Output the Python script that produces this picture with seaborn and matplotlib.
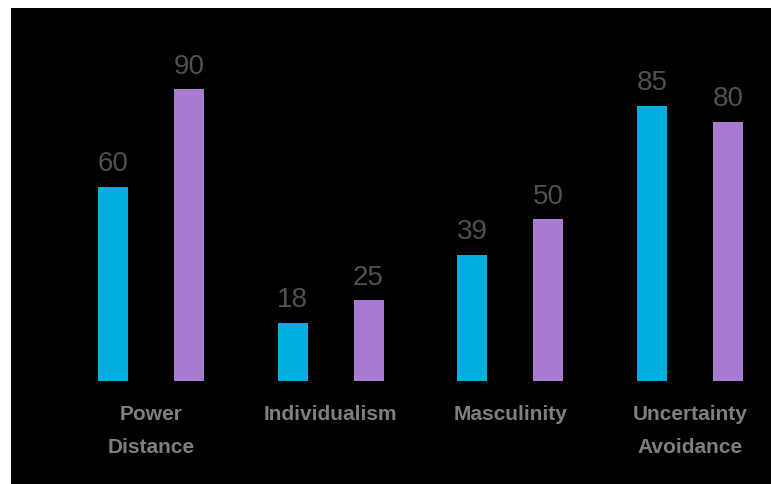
import pandas as pd
import seaborn as sns
import matplotlib.pyplot as plt

# dimensions and the two compared scores
dimensions = ["Power\nDistance", "Individualism", "Masculinity", "Uncertainty\nAvoidance"]
series_names = ["A", "B"]
scores_a = [60, 18, 39, 85]
scores_b = [90, 25, 50, 80]

data = pd.DataFrame({
    "dimension": dimensions * 2,
    "series": [series_names[0]] * 4 + [series_names[1]] * 4,
    "score": scores_a + scores_b,
})

sns.set_style("white")
plt.rcParams['font.family'] = ['Liberation Sans', 'DejaVu Sans']

fig = plt.figure(figsize=(7.71, 4.84), dpi=100, facecolor="white")
ax = fig.add_axes([11 / 771, 0, 760 / 771, 476 / 484])
ax.set_facecolor("black")

sns.barplot(data=data, x="dimension", y="score", hue="series",
            palette=["#00AEDF", "#A77BCF"], saturation=1, width=0.844, gap=0.605,
            linewidth=0, legend=False, ax=ax)

for c in ax.containers:
    ax.bar_label(c, padding=7, fontsize=20, color="#505050")

ax.set_xlim(-0.779, 3.451)
ax.set_ylim(-31.6, 115.1)
for s in ax.spines.values():
    s.set_visible(False)
ax.spines['bottom'].set_position(('data', 0))
ax.set_yticks([])
ax.set_xlabel("")
ax.set_ylabel("")
ax.tick_params(axis="x", length=0, pad=17, labelsize=15, labelcolor="#7f7f7f")
for t in ax.get_xticklabels():
    t.set_linespacing(1.95)
    t.set_fontweight("bold")

fig.savefig("out.png", dpi=100, facecolor="white")
